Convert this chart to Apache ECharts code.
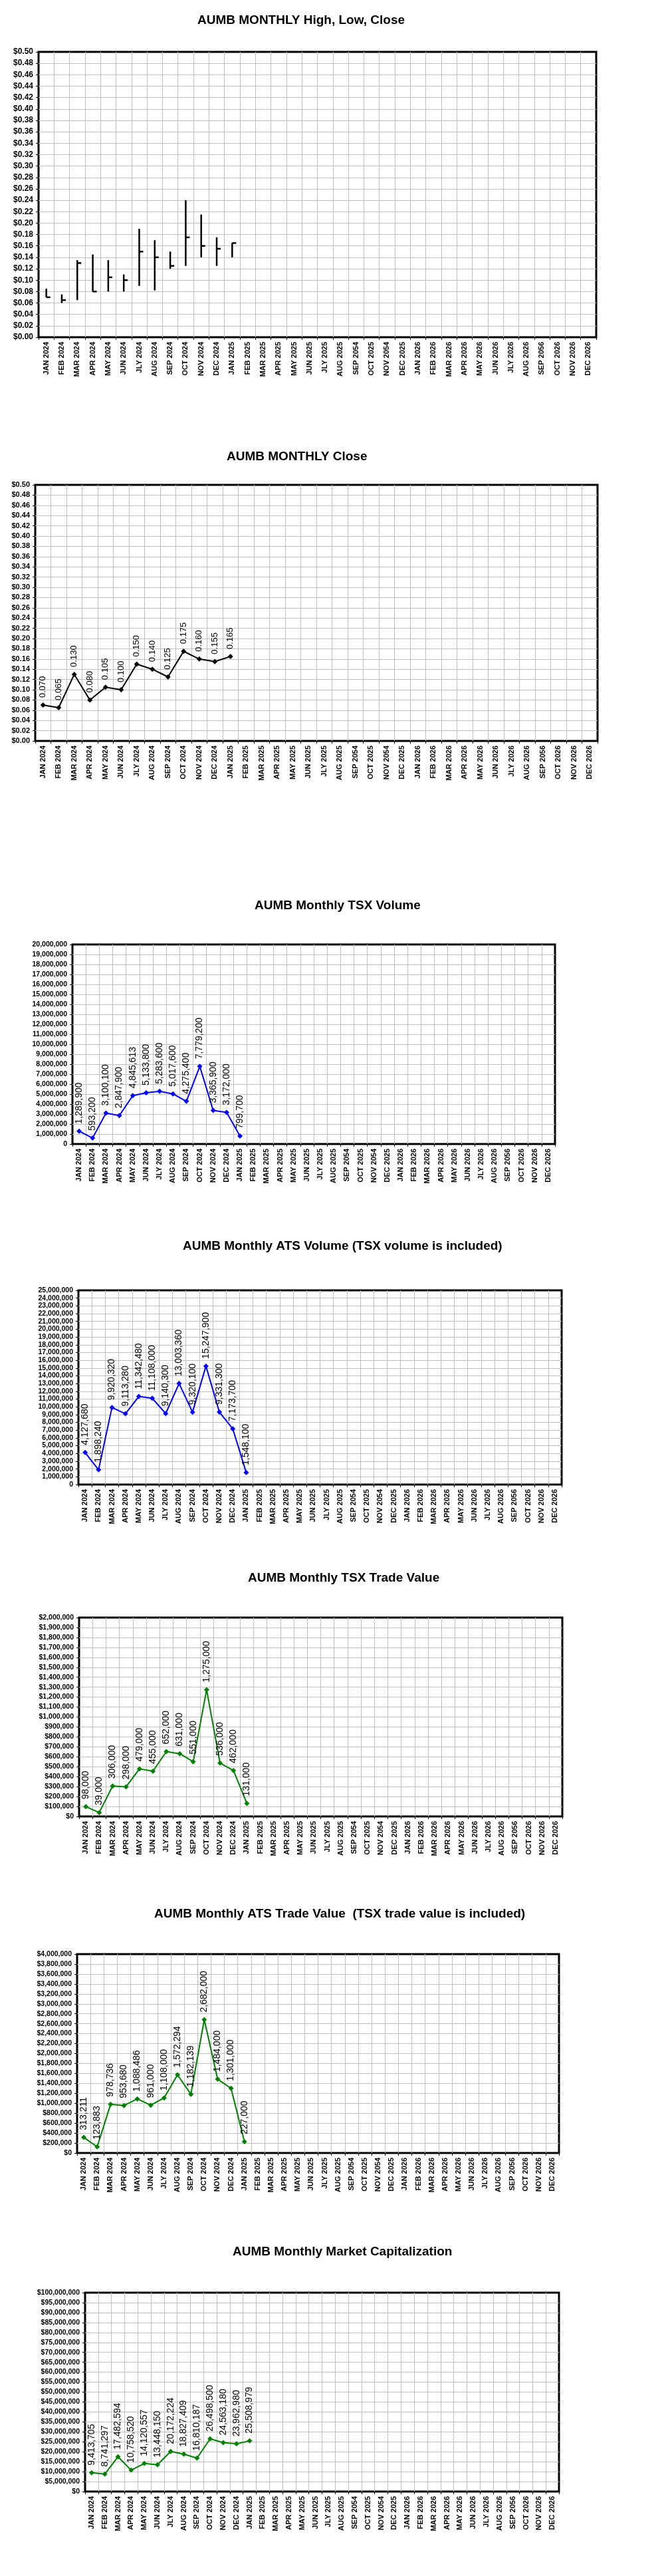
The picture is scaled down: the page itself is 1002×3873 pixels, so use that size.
<!DOCTYPE html>
<html>
<head>
<meta charset="utf-8">
<title>AUMB Monthly Charts</title>
<script src="https://cdn.jsdelivr.net/npm/echarts@6/dist/echarts.min.js"></script>
<style>
  html, body { margin: 0; padding: 0; background: #fff; }
  #chart { width: 1002px; height: 3873px; }
</style>
</head>
<body>
<div id="chart"></div>
<script>
// month labels, typos kept as they are on the sheet
const months = [
  'JAN 2024', 'FEB 2024', 'MAR 2024', 'APR 2024', 'MAY 2024', 'JUN 2024',
  'JLY 2024', 'AUG 2024', 'SEP 2024', 'OCT 2024', 'NOV 2024', 'DEC 2024',
  'JAN 2025', 'FEB 2025', 'MAR 2025', 'APR 2025', 'MAY 2025', 'JUN 2025',
  'JLY 2025', 'AUG 2025', 'SEP 2054', 'OCT 2025', 'NOV 2054', 'DEC 2025',
  'JAN 2026', 'FEB 2026', 'MAR 2026', 'APR 2026', 'MAY 2026', 'JUN 2026',
  'JLY 2026', 'AUG 2026', 'SEP 2056', 'OCT 2026', 'NOV 2026', 'DEC 2026'
]

// price data
const highs = [0.085, 0.075, 0.135, 0.145, 0.135, 0.11, 0.19, 0.17, 0.15, 0.24, 0.215, 0.175, 0.165]
const lows = [0.07, 0.06, 0.065, 0.08, 0.08, 0.08, 0.09, 0.082, 0.12, 0.125, 0.14, 0.125, 0.14]
const closes = [0.07, 0.065, 0.13, 0.08, 0.105, 0.1, 0.15, 0.14, 0.125, 0.175, 0.16, 0.155, 0.165]

// volumes
const tsxVolume = [1289900, 593200, 3100100, 2847900, 4845613, 5133800, 5283600, 5017600, 4275400, 7779200, 3365900, 3172000, 799700]
const atsVolume = [4127680, 1898240, 9920320, 9113280, 11342480, 11108000, 9140300, 13003360, 9320100, 15247900, 9331300, 7173700, 1548100]

// trade values and market cap
const tsxValue = [98000, 39000, 306000, 298000, 479000, 455000, 652000, 631000, 551000, 1275000, 536000, 462000, 131000]
const atsValue = [313211, 123883, 978736, 953680, 1088486, 961000, 1108000, 1572294, 1182139, 2682000, 1484000, 1301000, 227000]
const marketCap = [9413705, 8741297, 17482594, 10758520, 14120557, 13448150, 20172224, 18827409, 16810187, 26498500, 24563180, 23962980, 25508979]

const FONT = '"Liberation Sans", Arial, sans-serif'
const comma = (v) => Math.round(v).toLocaleString('en-US')
const dollar = (v) => '$' + comma(v)
const price = (v) => '$' + v.toFixed(2)

// one entry per chart: title, plot box and y scale
const panels = [
  { title: 'AUMB MONTHLY High, Low, Close', tl: 297, ty: 32, l: 58, t: 78, r: 897, b: 507, max: 0.5, step: 0.02, yFmt: price, yFont: 12 },
  { title: 'AUMB MONTHLY Close', tl: 341, ty: 688, l: 53, t: 729, r: 899, b: 1114, max: 0.5, step: 0.02, yFmt: price, yFont: 11,
    data: closes, color: '#000', lblFmt: (v) => v.toFixed(3), lblSize: 13 },
  { title: 'AUMB Monthly TSX Volume', tl: 383, ty: 1363, l: 109, t: 1420, r: 835, b: 1720, max: 20000000, step: 1000000, yFmt: comma, yFont: 10.5,
    data: tsxVolume, color: '#0000ff', lblFmt: comma, lblSize: 14 },
  { title: 'AUMB Monthly ATS Volume (TSX volume is included)', tl: 275, ty: 1875, l: 118, t: 1940, r: 845, b: 2232, max: 25000000, step: 1000000, yFmt: comma, yFont: 10.5,
    data: atsVolume, color: '#0000ff', lblFmt: comma, lblSize: 14 },
  { title: 'AUMB Monthly TSX Trade Value', tl: 373, ty: 2374, l: 119, t: 2432, r: 846, b: 2731, max: 2000000, step: 100000, yFmt: dollar, yFont: 10.5,
    data: tsxValue, color: '#008000', lblFmt: comma, lblSize: 14 },
  { title: 'AUMB Monthly ATS Trade Value  (TSX trade value is included)', tl: 232, ty: 2879, l: 116, t: 2938, r: 841, b: 3237, max: 4000000, step: 200000, yFmt: dollar, yFont: 10.5,
    data: atsValue, color: '#008000', lblFmt: comma, lblSize: 14 },
  { title: 'AUMB Monthly Market Capitalization', tl: 350, ty: 3387, l: 128, t: 3447, r: 841, b: 3746, max: 100000000, step: 5000000, yFmt: dollar, yFont: 10.5,
    data: marketCap, color: '#008000', lblFmt: comma, lblSize: 14 }
]

const chart = echarts.init(document.getElementById('chart'))

const option = {
  backgroundColor: '#fff',
  animation: false,
  title: panels.map((p) => ({
    text: p.title,
    left: p.tl,
    top: p.ty - 11,
    padding: 0,
    textStyle: { fontFamily: FONT, fontSize: 19, fontWeight: 'bold', color: '#000' }
  })),
  grid: panels.map((p) => ({
    left: p.l,
    top: p.t,
    width: p.r - p.l,
    height: p.b - p.t,
    show: true,
    backgroundColor: '#fff',
    borderColor: '#000',
    borderWidth: 3,
    outerBoundsMode: 'none'
  })),
  xAxis: panels.map((p, i) => ({
    type: 'category',
    gridIndex: i,
    data: months,
    boundaryGap: true,
    axisLine: { show: false },
    axisTick: { show: true, length: 4, lineStyle: { color: '#000' } },
    axisLabel: { interval: 0, rotate: 90, margin: 7, color: '#000', fontFamily: FONT, fontSize: 11, fontWeight: 'bold' },
    splitLine: { show: true, showMinLine: false, showMaxLine: false, lineStyle: { color: '#c0c0c0', width: 1 } }
  })),
  yAxis: panels.map((p, i) => ({
    type: 'value',
    gridIndex: i,
    min: 0,
    max: p.max,
    interval: p.step,
    axisLine: { show: false },
    axisTick: { show: true, length: 4, lineStyle: { color: '#000' } },
    axisLabel: { margin: 8, color: '#000', fontFamily: FONT, fontSize: p.yFont, fontWeight: 'bold', formatter: p.yFmt },
    splitLine: { show: true, showMinLine: false, showMaxLine: false, lineStyle: { color: '#c0c0c0', width: 1 } }
  })),
  series: []
}

// high-low-close bars
option.series.push({
  type: 'custom',
  xAxisIndex: 0,
  yAxisIndex: 0,
  data: highs.map((h, i) => [i, h, lows[i], closes[i]]),
  encode: { x: 0, y: [1, 2, 3] },
  renderItem: (params, api) => {
    const hi = api.coord([api.value(0), api.value(1)])
    const lo = api.coord([api.value(0), api.value(2)])
    const cl = api.coord([api.value(0), api.value(3)])
    const style = { stroke: '#000', lineWidth: 2.5 }
    return {
      type: 'group',
      children: [
        { type: 'line', shape: { x1: hi[0], y1: hi[1], x2: lo[0], y2: lo[1] }, style },
        { type: 'line', shape: { x1: cl[0], y1: cl[1], x2: cl[0] + 6, y2: cl[1] }, style }
      ]
    }
  }
})

// line charts
panels.forEach((p, i) => {
  if (!p.data) return
  option.series.push({
    type: 'line',
    xAxisIndex: i,
    yAxisIndex: i,
    data: p.data,
    symbol: 'diamond',
    symbolSize: 8,
    itemStyle: { color: p.color },
    lineStyle: { color: p.color, width: 2 },
    label: {
      show: true,
      position: 'top',
      distance: 7,
      rotate: 90,
      align: 'left',
      verticalAlign: 'middle',
      color: '#000',
      fontFamily: FONT,
      fontSize: p.lblSize,
      formatter: (arg) => p.lblFmt(arg.value)
    }
  })
})

chart.setOption(option)
</script>
</body>
</html>
